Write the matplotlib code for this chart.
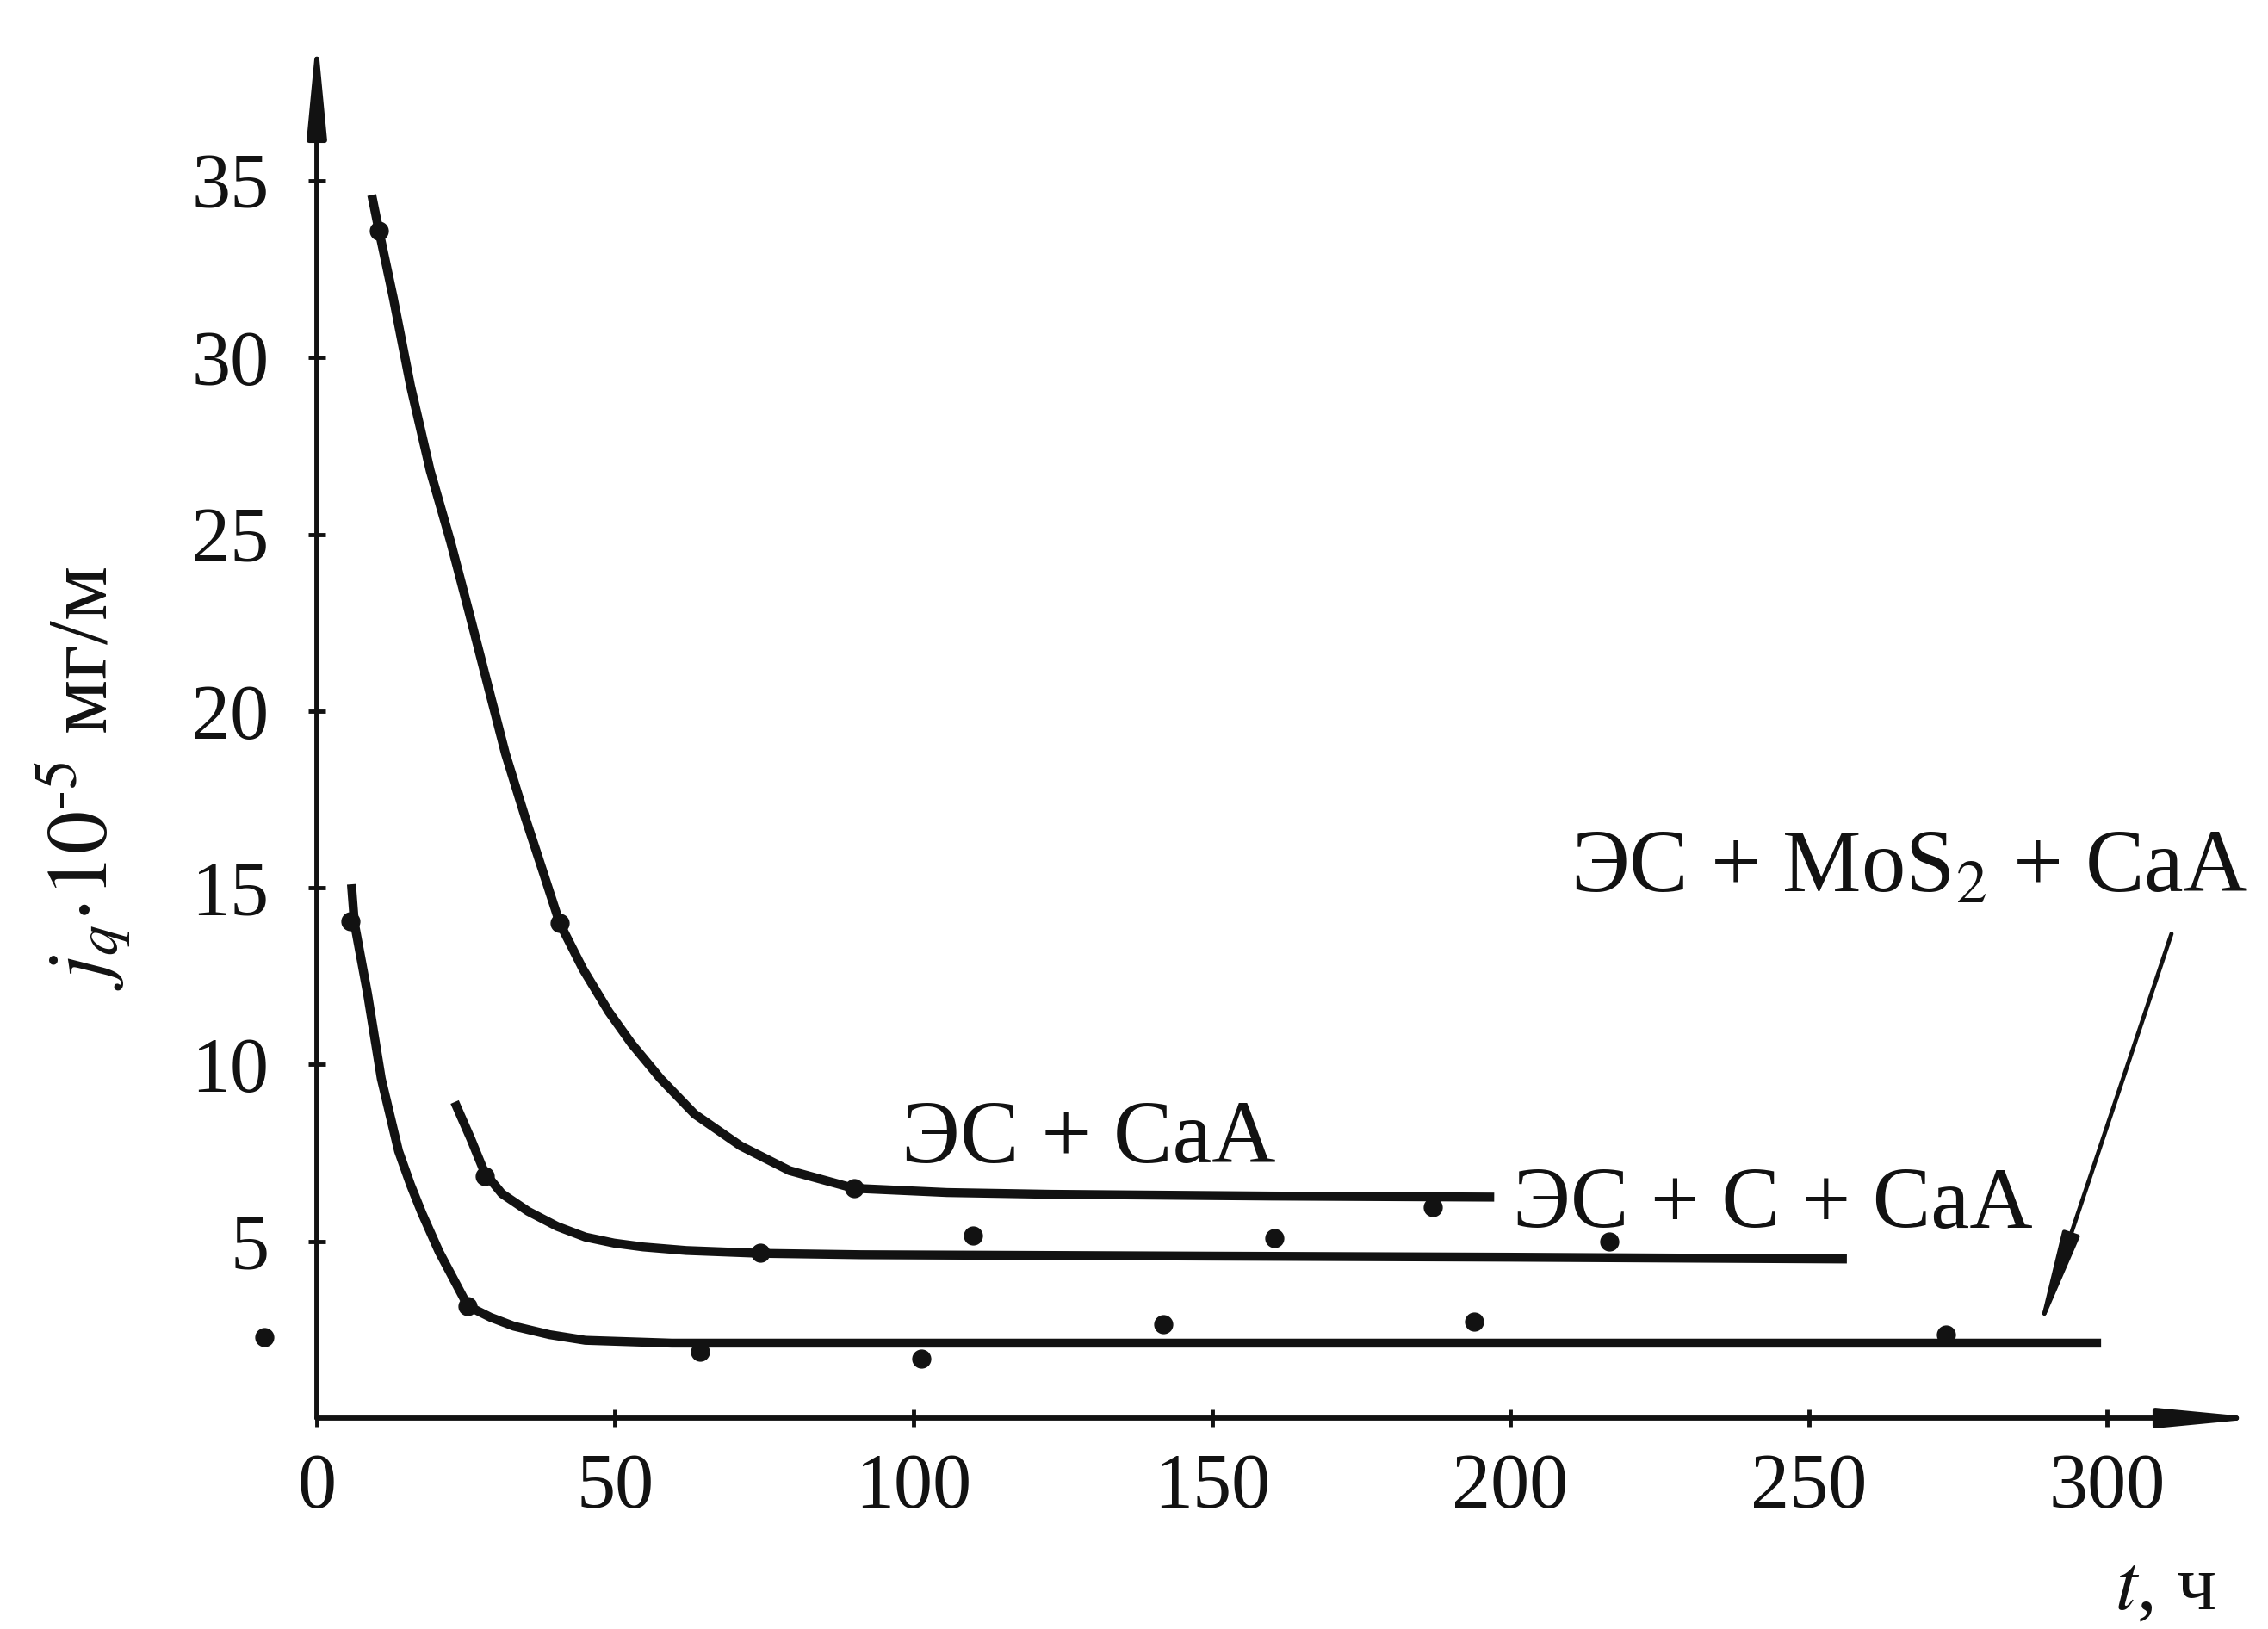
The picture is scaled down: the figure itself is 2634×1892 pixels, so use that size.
import matplotlib
matplotlib.use("Agg")
import matplotlib.pyplot as plt

# ---------------------------------------------------------
# data (t in hours, j_q*1e-5 mg/m)
# ---------------------------------------------------------
# ЭС + CaA
caa_curve_t = [9.2, 10.4, 12.8, 15.7, 19.0, 22.4, 25.5, 28.7, 31.6, 34.9, 38.2, 40.7,
               44.6, 48.9, 52.7, 57.6, 63.3, 71.0, 79.2, 90.0, 105.6, 123.0, 160.0, 197.3]
caa_curve_j = [34.6, 33.6, 31.7, 29.2, 26.8, 24.8, 22.8, 20.7, 18.8, 17.0, 15.3, 14.0,
               12.7, 11.5, 10.6, 9.6, 8.6, 7.7, 7.0, 6.5, 6.38, 6.33, 6.28, 6.25]
caa_pts_t = [10.4, 40.7, 90.0, 187.0]
caa_pts_j = [33.6, 14.0, 6.5, 5.97]

# ЭС + C + CaA
c_curve_t = [23.1, 25.8, 28.1, 31.0, 35.4, 40.3, 45.0, 49.8, 54.7, 61.9, 74.3, 91.2,
             150.0, 200.0, 256.4]
c_curve_j = [8.94, 7.9, 6.95, 6.35, 5.85, 5.42, 5.12, 4.95, 4.84, 4.74, 4.66, 4.62,
             4.58, 4.55, 4.5]
c_pts_t = [28.1, 74.3, 110.0, 160.5, 216.6]
c_pts_j = [6.85, 4.68, 5.16, 5.09, 5.0]

# ЭС + MoS2 + CaA
mos_curve_t = [5.8, 6.3, 8.5, 10.8, 13.7, 15.7, 17.6, 20.5, 25.3, 29.1, 33.0, 39.0,
               45.0, 59.5, 91.2, 200.0, 299.0]
mos_curve_j = [15.1, 14.0, 12.0, 9.6, 7.55, 6.6, 5.8, 4.7, 3.17, 2.85, 2.6, 2.36,
               2.2, 2.12, 2.12, 2.12, 2.12]
mos_pts_t = [5.6, 25.3, 64.2, 101.3, 141.8, 194.0, 273.0]
mos_pts_j = [14.05, 3.17, 1.88, 1.68, 2.65, 2.73, 2.36]

# stray dot left of the axis in the scan
stray_t = [-8.8]
stray_j = [2.3]

x_ticks = [0, 50, 100, 150, 200, 250, 300]
y_ticks = [5, 10, 15, 20, 25, 30, 35]

#########################################################
plt.rcParams['font.family'] = ['Liberation Serif', 'DejaVu Serif']
plt.rcParams['mathtext.fontset'] = 'stix'

INK = '#121212'

fig = plt.figure(figsize=(26.34, 18.92), dpi=100)
ax = fig.add_axes([0.1397, 0.1295, 0.858, 0.8504])
ax.set_xlim(0, 326.1)
ax.set_ylim(0, 39.19)

for s in ax.spines.values():
    s.set_visible(False)

# axes drawn as arrows
arrow_kw = dict(arrowstyle='-|>,head_length=6.8,head_width=0.65', color=INK, lw=4.2,
                shrinkA=0, shrinkB=0, mutation_scale=10)
ax.annotate('', xy=(0, 1), xycoords='axes fraction', xytext=(0, 0),
            arrowprops=arrow_kw, annotation_clip=False)
ax.annotate('', xy=(1, 0), xycoords='axes fraction', xytext=(0, 0),
            arrowprops=arrow_kw, annotation_clip=False)

ax.set_xticks(x_ticks)
ax.set_yticks(y_ticks)
ax.tick_params(axis='both', direction='inout', length=14, width=3.5, color=INK,
               labelsize=65, labelcolor=INK)
ax.tick_params(axis='y', pad=33)
ax.tick_params(axis='x', pad=22)

line_kw = dict(color=INK, lw=7.5, solid_capstyle='butt', solid_joinstyle='round')
dot_kw = dict(color=INK, marker='o', ms=15, ls='none')

ax.plot(caa_curve_t, caa_curve_j, **line_kw)
ax.plot(caa_pts_t, caa_pts_j, **dot_kw)
ax.plot(c_curve_t, c_curve_j, **line_kw)
ax.plot(c_pts_t, c_pts_j, **dot_kw)
ax.plot(mos_curve_t, mos_curve_j, **line_kw)
ax.plot(mos_pts_t, mos_pts_j, **dot_kw)
ax.plot(stray_t, stray_j, clip_on=False, **dot_kw)

# curve labels
ax.text(98.0, 7.23, 'ЭС + CaA', fontsize=74, color=INK, ha='left', va='baseline')
ax.text(200.4, 5.38, 'ЭС + C + CaA', fontsize=73, color=INK, ha='left', va='baseline')
ax.text(266.8, 14.9, 'ЭС + MoS$_2$ + CaA', fontsize=74, color=INK, ha='center',
        va='baseline', clip_on=False)
ax.annotate('', xy=(288.2, 2.3), xytext=(310.8, 13.7),
            arrowprops=dict(arrowstyle='-|>,head_length=7,head_width=0.6', color=INK,
                            lw=3.5, shrinkA=0, shrinkB=0, mutation_scale=10))

# axis titles
fig.text(96 / 2634, 1 - 904 / 1892, r'$j_q{\cdot}10^{\text{-}5}$ мг/м', rotation=90,
         fontsize=72, color=INK, ha='center', va='center')
fig.text(2515 / 2634, 1 - 1846 / 1892, r'$t$, ч', fontsize=66, color=INK,
         ha='center', va='center')

fig.savefig('out.png', dpi=100, facecolor='white')
plt.close(fig)
